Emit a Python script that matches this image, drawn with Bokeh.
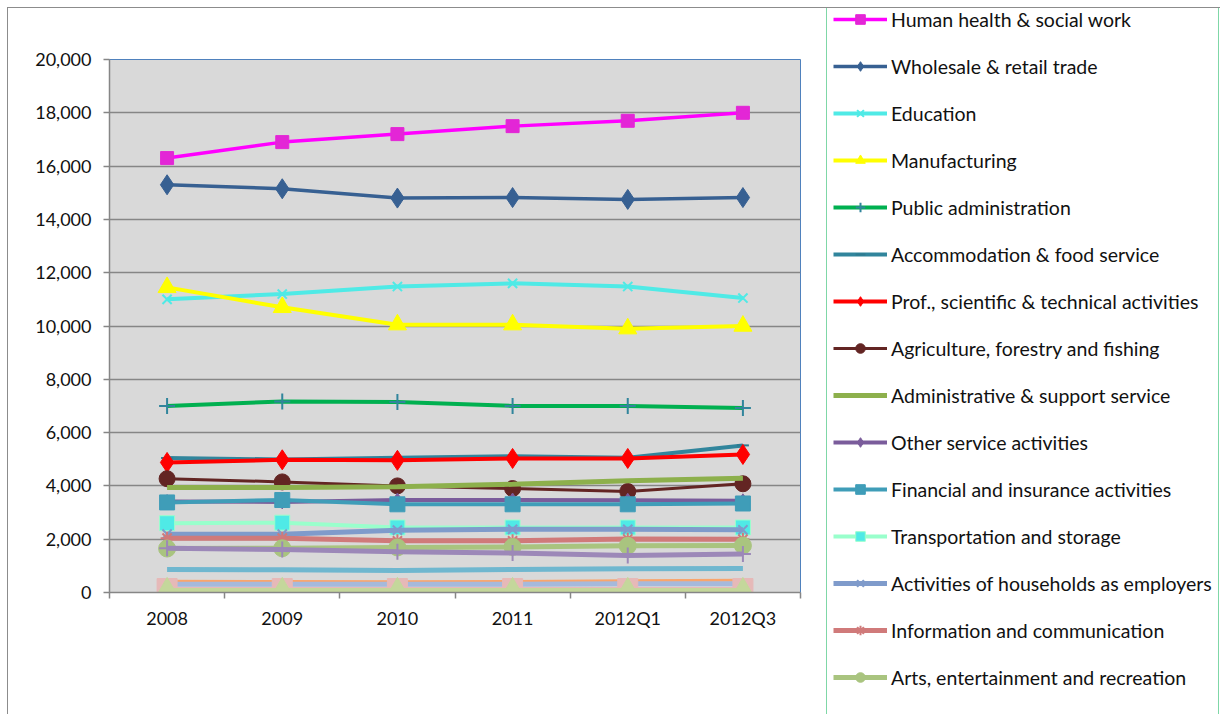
from bokeh.plotting import figure
from bokeh.layouts import row
from bokeh.models import Range1d, FixedTicker, Legend, LegendItem, NumeralTickFormatter
from bokeh.embed import file_html
from bokeh.resources import INLINE

periods = ["2008", "2009", "2010", "2011", "2012Q1", "2012Q3"]

human_health = [16300, 16900, 17200, 17500, 17700, 18000]
wholesale = [15300, 15150, 14800, 14820, 14750, 14820]
education = [11000, 11200, 11480, 11600, 11480, 11050]
manufacturing = [11450, 10700, 10050, 10050, 9900, 10000]
public_admin = [7000, 7170, 7150, 7000, 7000, 6920]
accommodation = [5050, 4990, 5060, 5110, 5060, 5520]
prof_sci = [4880, 4980, 4960, 5030, 5030, 5180]
agriculture = [4270, 4150, 4000, 3900, 3790, 4080]
admin_support = [3940, 3940, 3970, 4060, 4190, 4290]
other_service = [3410, 3400, 3470, 3470, 3460, 3440]
financial = [3380, 3470, 3310, 3310, 3310, 3340]
transport = [2600, 2620, 2440, 2440, 2440, 2440]
households = [2190, 2190, 2340, 2370, 2370, 2350]
information = [2040, 2040, 1940, 1940, 2010, 2000]
arts = [1650, 1660, 1690, 1710, 1750, 1760]
# further series whose legend entries fall below the visible area
series_16 = [1660, 1610, 1530, 1480, 1390, 1440]
series_17 = [860, 850, 830, 860, 890, 900]
series_18 = [420, 410, 400, 410, 440, 460]
series_19 = [310, 310, 310, 310, 330, 330]
series_20 = [150, 150, 150, 150, 150, 150]
series_21 = [90, 90, 90, 90, 90, 90]

# (label, values, line colour, line width, marker, marker size, marker fill, marker line, in legend)
series = [
    ("Human health & social work", human_health, "#FF00FF", 3.5, "square", 13, "#E326D6", "#E326D6", True),
    ("Wholesale & retail trade", wholesale, "#376092", 3.5, "diamond", 20, "#376092", "#376092", True),
    ("Education", education, "#4FEAE6", 4, "x", 13, None, "#4FEAE6", True),
    ("Manufacturing", manufacturing, "#FFFF00", 4, "triangle", 18, "#FFFF00", "#FFFF00", True),
    ("Public administration", public_admin, "#00B050", 4, "cross", 16, None, "#31859C", True),
    ("Accommodation & food service", accommodation, "#31859C", 4, "dash", 12, None, "#2E7B90", True),
    ("Prof., scientific & technical activities", prof_sci, "#FF0000", 4, "diamond", 20, "#FF0000", "#FF0000", True),
    ("Agriculture, forestry and fishing", agriculture, "#632523", 3, "circle", 16, "#632523", "#632523", True),
    ("Administrative & support service", admin_support, "#8DB04C", 5, None, 0, None, None, True),
    ("Other service activities", other_service, "#7A5C9B", 4, "diamond", 14, "#7A5C9B", "#7A5C9B", True),
    ("Financial and insurance activities", financial, "#3F9DB8", 4, "square", 15, "#3F9DB8", "#3F9DB8", True),
    ("Transportation and storage", transport, "#99FFCC", 4, "square", 15, "#4FEAE6", "#99FFCC", True),
    ("Activities of households as employers", households, "#7F9BCB", 5, "x", 13, None, "#7F9BCB", True),
    ("Information and communication", information, "#D07A7A", 5, "asterisk", 13, None, "#D07A7A", True),
    ("Arts, entertainment and recreation", arts, "#A9C47F", 5, "circle", 17, "#A9C47F", "#A9C47F", True),
    (" ", series_16, "#9C88B8", 5, "cross", 16, None, "#9C88B8", True),
    ("Series 17", series_17, "#6FB7CF", 5, None, 0, None, None, False),
    ("Series 18", series_18, "#F9A56C", 3, None, 0, None, None, False),
    ("Series 19", series_19, "#A6B9DB", 5, "triangle", 9, "#A6B9DB", "#A6B9DB", False),
    ("Series 20", series_20, "#E6B9B8", 3, "square", 20, "#E6B9B8", "#E6B9B8", False),
    ("Series 21", series_21, "#C4D79B", 4, "triangle", 22, "#C4D79B", "#C4D79B", False),
]

FONT = "Lato"
GRID = "#868686"
H = 706

p = figure(width=817, height=H, output_backend="svg", toolbar_location=None,
           x_range=Range1d(0, len(periods)), y_range=Range1d(0, 20000),
           min_border_left=101, min_border_right=25, min_border_top=51,
           min_border_bottom=H + 8 - 592,
           background_fill_color="#D9D9D9", border_fill_color="white")
p.frame_align = False
p.outline_line_color = "#4F81BD"
p.outline_line_width = 1

xs = [i + 0.5 for i in range(len(periods))]

p.xaxis.ticker = FixedTicker(ticks=xs, minor_ticks=list(range(len(periods) + 1)))
p.xaxis.major_label_overrides = {x: lab for x, lab in zip(xs, periods)}
p.xaxis.major_tick_out = 0
p.xaxis.major_tick_in = 0
p.xaxis.minor_tick_out = 6
p.xaxis.minor_tick_in = 0
p.xaxis.minor_tick_line_color = GRID
p.xaxis.minor_tick_line_width = 1.5
p.xaxis.major_label_standoff = 8

p.yaxis.ticker = FixedTicker(ticks=list(range(0, 20001, 2000)), minor_ticks=[])
p.yaxis.formatter = NumeralTickFormatter(format="0,0")
p.yaxis.major_tick_out = 6
p.yaxis.major_tick_in = 0
p.yaxis.major_tick_line_color = GRID
p.yaxis.major_tick_line_width = 1.5
p.yaxis.major_label_standoff = 12

for ax in (p.xaxis, p.yaxis):
    ax.axis_line_color = GRID
    ax.axis_line_width = 1.5
    ax.major_label_text_font = FONT
    ax.major_label_text_font_size = "18px"
    ax.major_label_text_color = "#111111"

p.xgrid.grid_line_color = None
p.ygrid.grid_line_color = GRID
p.ygrid.grid_line_width = 1.5

# legend panel: same series, drawn outside its visible range, feeding only the legend
q = figure(width=395, height=H, output_backend="svg", toolbar_location=None,
           x_range=Range1d(0, len(periods)), y_range=Range1d(50000, 60000),
           min_border_left=0, min_border_right=0, min_border_top=0, min_border_bottom=0,
           background_fill_color="white", border_fill_color="white")
q.frame_align = False
q.axis.visible = False
q.grid.grid_line_color = None
q.outline_line_color = None

items = []
for (label, vals, lc, lw, marker, msize, mfill, mline, show) in series:
    p.line(xs, vals, line_color=lc, line_width=lw)
    if marker is not None:
        p.scatter(xs, vals, marker=marker, size=msize, fill_color=mfill, line_color=mline,
                  line_width=2 if mfill is None else 1)
    if show:
        rs = [q.line(xs, vals, line_color=lc, line_width=lw)]
        if marker is not None:
            rs.append(q.scatter(xs, vals, marker=marker, size=msize, fill_color=mfill,
                                line_color=mline, line_width=2 if mfill is None else 1))
        items.append(LegendItem(label=label, renderers=rs))

# legend box runs on past the bottom edge (its later entries are cut off)
legend = Legend(items=items, location=(1, 18 - 47), orientation="vertical",
                glyph_width=54, glyph_height=24, label_height=24, spacing=23,
                padding=6, margin=0, label_standoff=4,
                label_text_font=FONT, label_text_font_size="19.5px",
                label_text_color="#111111",
                border_line_color="#00B050", border_line_width=1.5,
                background_fill_color="white", background_fill_alpha=1)
q.add_layout(legend, "center")

layout = row(p, q, margin=(7, 0, 0, 7), spacing=0)
layout.styles = {"border-top": "1px solid #8C8C8C", "border-left": "1px solid #8C8C8C"}

open("out.html", "w").write(file_html(layout, INLINE))
